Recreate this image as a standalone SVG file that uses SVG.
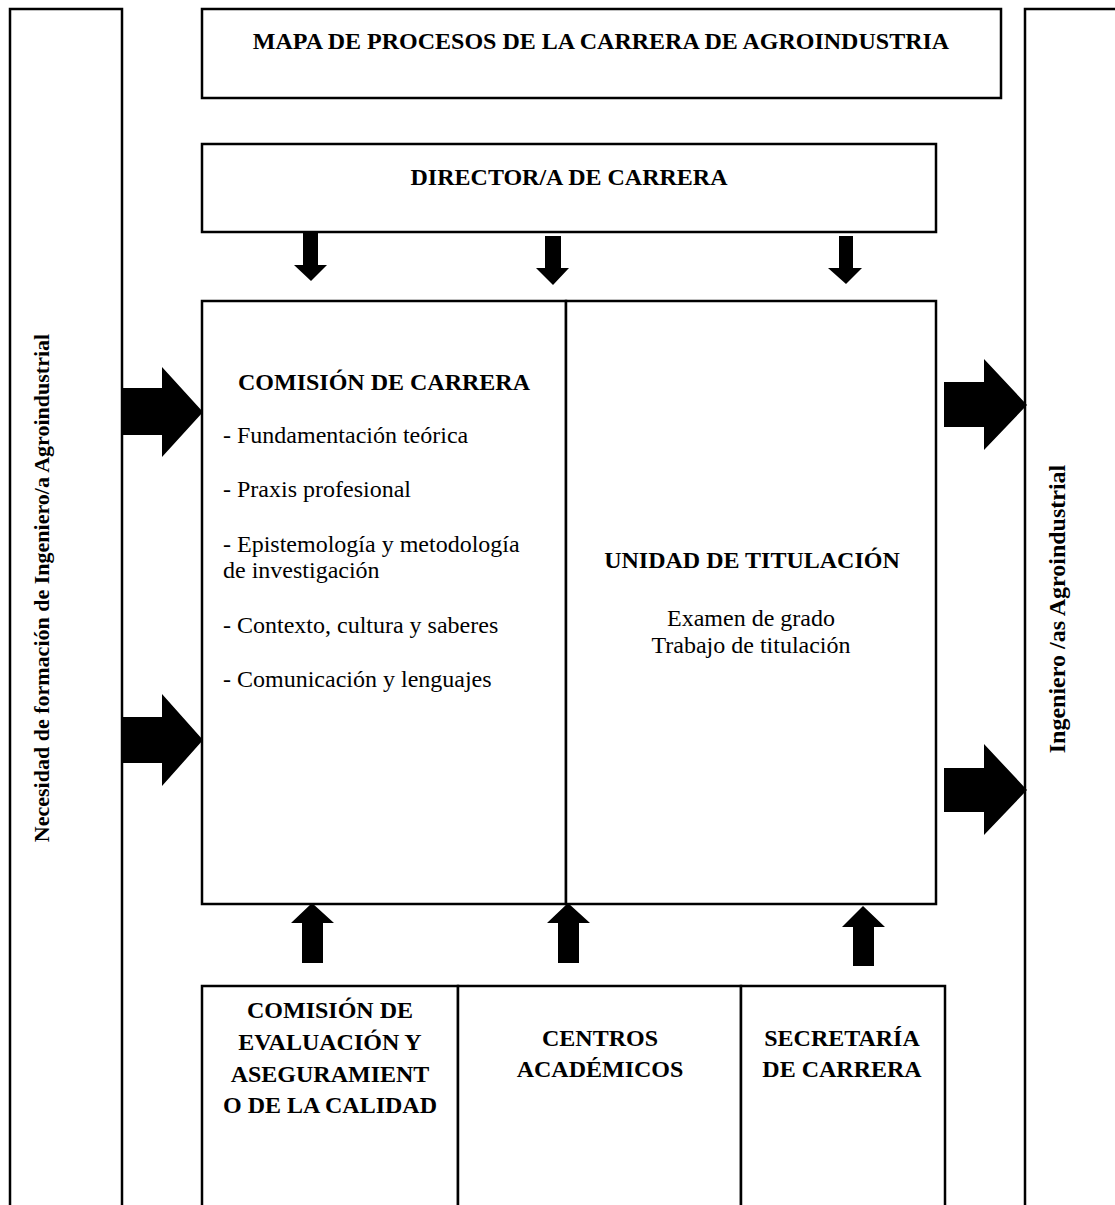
<svg xmlns="http://www.w3.org/2000/svg" width="1115" height="1205" viewBox="0 0 1115 1205">
  <style>
    .box { fill: #fff; stroke: #000; stroke-width: 2.5; }
    .arrow { fill: #000; stroke: none; }
    .t { font-family: "Liberation Serif", "Times New Roman", serif; font-size: 24px; fill: #000; }
    .b { font-weight: bold; }
    .c { text-anchor: middle; }
  </style>
  <rect width="1115" height="1205" fill="#fff"/>

  <!-- side columns -->
  <g id="input-column">
    <rect class="box" x="10" y="9" width="112" height="1215"/>
    <text class="t b c" style="font-size:22px" transform="translate(49,588) rotate(-90)">Necesidad de formación de Ingeniero/a Agroindustrial</text>
  </g>
  <g id="output-column">
    <rect class="box" x="1025" y="9" width="120" height="1215"/>
    <text class="t b c" transform="translate(1065,609) rotate(-90)">Ingeniero /as Agroindustrial</text>
  </g>

  <!-- heading -->
  <g id="title">
    <rect class="box" x="202" y="9" width="799" height="89"/>
    <text class="t b c" x="601" y="49">MAPA DE PROCESOS DE LA CARRERA DE AGROINDUSTRIA</text>
  </g>

  <g id="director">
    <rect class="box" x="202" y="144" width="734" height="88"/>
    <text class="t b c" x="569" y="185">DIRECTOR/A DE CARRERA</text>
  </g>

  <!-- central process block -->
  <g id="comision-carrera">
    <rect class="box" x="202" y="301" width="364" height="603"/>
    <text class="t b c" x="384" y="390">COMISIÓN DE CARRERA</text>
    <text class="t" x="223" y="443">- Fundamentación teórica</text>
    <text class="t" x="223" y="497">- Praxis profesional</text>
    <text class="t" x="223" y="552">- Epistemología y metodología</text>
    <text class="t" x="223" y="578">de investigación</text>
    <text class="t" x="223" y="633">- Contexto, cultura y saberes</text>
    <text class="t" x="223" y="687">- Comunicación y lenguajes</text>
  </g>
  <g id="unidad-titulacion">
    <rect class="box" x="566" y="301" width="370" height="603"/>
    <text class="t b c" x="752" y="568">UNIDAD DE TITULACIÓN</text>
    <text class="t c" x="751" y="626">Examen de grado</text>
    <text class="t c" x="751" y="653">Trabajo de titulación</text>
  </g>

  <!-- support units -->
  <g id="comision-evaluacion">
    <rect class="box" x="202" y="986" width="256" height="235"/>
    <text class="t b c" x="330" y="1018">COMISIÓN DE</text>
    <text class="t b c" x="330" y="1050">EVALUACIÓN Y</text>
    <text class="t b c" x="330" y="1082">ASEGURAMIENT</text>
    <text class="t b c" x="330" y="1113">O DE LA CALIDAD</text>
  </g>
  <g id="centros-academicos">
    <rect class="box" x="458" y="986" width="283" height="235"/>
    <text class="t b c" x="600" y="1046">CENTROS</text>
    <text class="t b c" x="600" y="1077">ACADÉMICOS</text>
  </g>
  <g id="secretaria">
    <rect class="box" x="741" y="986" width="204" height="235"/>
    <text class="t b c" x="842" y="1046">SECRETARÍA</text>
    <text class="t b c" x="842" y="1077">DE CARRERA</text>
  </g>

  <!-- block arrows -->
  <g id="connectors">
    <polygon class="arrow" points="122,388 162,388 162,367 203,412 162,457 162,435 122,435"/>
    <polygon class="arrow" points="122,717 162,717 162,694 203,740 162,786 162,763 122,763"/>
    <polygon class="arrow" points="944,382 984,382 984,359 1027,405 984,450 984,427 944,427"/>
    <polygon class="arrow" points="944,768 984,768 984,744 1027,790 984,835 984,812 944,812"/>
    <polygon class="arrow" points="303,233 318,233 318,265 327,265 311,281 294,265 303,265"/>
    <polygon class="arrow" points="545,236 561,236 561,268 569,268 553,285 536,268 545,268"/>
    <polygon class="arrow" points="839,236 853,236 853,268 862,268 846,284 828,268 839,268"/>
    <polygon class="arrow" points="302,963 323,963 323,923 334,923 312,903 291,923 302,923"/>
    <polygon class="arrow" points="558,963 579,963 579,923 590,923 568,903 547,923 558,923"/>
    <polygon class="arrow" points="853,966 874,966 874,927 885,927 863,906 842,927 853,927"/>
  </g>
</svg>
